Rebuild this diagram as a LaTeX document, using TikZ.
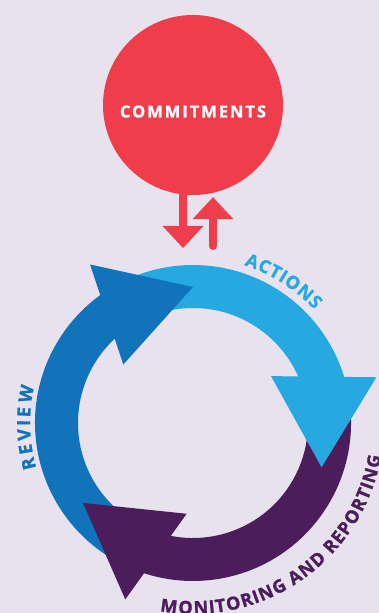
\documentclass[tikz,border=0pt]{standalone}
\usepackage{fontspec}
\usetikzlibrary{arrows.meta,decorations.text}

\newfontfamily\labelfont{Open Sans}[BoldFeatures={FakeBold=1.2}]
\newfontfamily\spacedfont{Open Sans}[LetterSpace=12,BoldFeatures={FakeBold=1.2}]
\definecolor{bgpaper}{HTML}{E8E1EE}
\definecolor{commitred}{HTML}{EF3D4B}
\definecolor{actionblue}{HTML}{25A9E0}
\definecolor{reviewblue}{HTML}{1174BB}
\definecolor{reportpurple}{HTML}{4B1E5B}

\begin{document}
\begin{tikzpicture}[
  x=1pt,y=1pt,
  redarrow/.style={draw=commitred,line width=8pt,
    -{Triangle[width=41pt,length=22pt,line width=0pt]}},
  ringlabel/.style 2 args={decorate,decoration={text effects along path,
      text={#2},text effects/.cd,text along path,fit text to path,
      every character/.style={text=#1,
        font=\labelfont\bfseries\fontsize{18}{18}\selectfont}}},
  ]
  \useasboundingbox (0,0) rectangle (379,613);
  \fill[bgpaper] (0,0) rectangle (379,613);

  \node[circle,fill=commitred,minimum size=180pt,inner sep=0pt,
    text=white,text height=25pt,
    font=\spacedfont\bfseries\fontsize{16.5}{17}\selectfont]
    (commit) at (193,508) {COMMITMENTS};
  \coordinate (cycle) at (193,190);
  \coordinate (dntip) at (183,365);
  \coordinate (upfoot) at (213,367);

  \draw[redarrow] ([xshift=-10pt,yshift=3pt]commit.south) -- (dntip);
  \draw[redarrow,line cap=round] (upfoot) -- ([xshift=20pt,yshift=-2pt]commit.south);

  \begin{scope}[shift={(cycle)}]
    % bodies first, then the heads on top of them
    \fill[actionblue] (118:158) arc[start angle=118,end angle=11,radius=158]
      -- (11:115) arc[start angle=11,end angle=118,radius=115] -- cycle;
    \fill[reportpurple] (10:158) arc[start angle=10,end angle=-114,radius=158]
      -- (-114:115) arc[start angle=-114,end angle=10,radius=115] -- cycle;
    \fill[reviewblue] (240:158) arc[start angle=240,end angle=120,radius=158]
      -- (120:115) arc[start angle=120,end angle=240,radius=115] -- cycle;
    \fill[actionblue] (-19:136) -- (14:189) -- (31:91) -- cycle;
    \fill[reportpurple] (-144:136) -- (-111:189) -- (-94:91) -- cycle;
    \fill[reviewblue] (90:136) -- (123:189) -- (140:91) -- cycle;

    \path[ringlabel={actionblue}{ACTIONS}]
      (72:166) arc[start angle=72,end angle=43,radius=166];
    \path[ringlabel={reviewblue}{REVIEW}]
      (196:163) arc[start angle=196,end angle=167,radius=163];
    \path[ringlabel={reportpurple}{MONITORING AND REPORTING}]
      (-100:191) arc[start angle=-100,end angle=-10,radius=191];
  \end{scope}
\end{tikzpicture}
\end{document}
